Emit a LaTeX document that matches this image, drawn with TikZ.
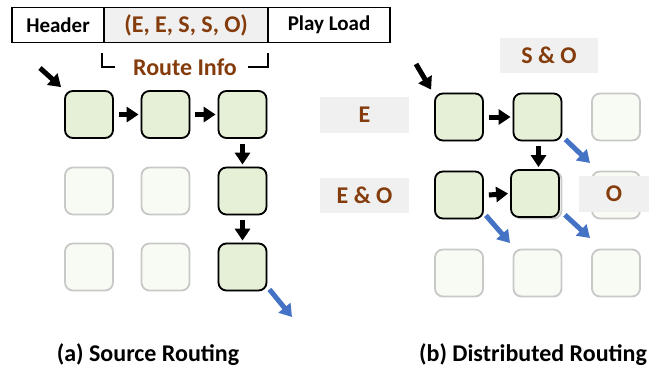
\documentclass[tikz,border=0pt]{standalone}
\usepackage{fontspec}
\setmainfont{Carlito}
\usetikzlibrary{arrows.meta}
\definecolor{routebrown}{HTML}{843C0C}
\definecolor{activefill}{HTML}{E6F0D6}
\definecolor{idlefill}{HTML}{F8FBF3}
\definecolor{idleline}{HTML}{C8C8C8}
\definecolor{tagfill}{HTML}{F0F0F0}
\definecolor{hopblue}{HTML}{4472C4}
\tikzset{
  router/.style={minimum width=48pt, minimum height=47pt, inner sep=0pt,
    rounded corners=8pt, draw=black, line width=1.8pt, fill=activefill},
  idle/.style={minimum width=48pt, minimum height=47pt, inner sep=0pt,
    rounded corners=8pt, draw=idleline, line width=1.8pt, fill=idlefill},
  hop/.style={line width=5pt, -{Triangle[length=12pt,width=15pt]}},
  nexthop/.style={hop, draw=hopblue},
  field/.style={draw=black, line width=1.2pt, minimum height=35pt, inner sep=0pt,
    font=\fontsize{21}{24}\selectfont\bfseries},
  brownfont/.style={font=\fontsize{24}{28}\selectfont\bfseries, text=routebrown},
  tag/.style={fill=tagfill, inner sep=0pt, brownfont},
  caption/.style={font=\fontsize{24}{28}\selectfont\bfseries},
}
\begin{document}
\begin{tikzpicture}[x=1pt, y=-1pt]
\useasboundingbox (0,0) rectangle (663,368);

% packet format
\node[field, minimum width=92pt] (hdr) at (58,25) {Header};
\node[field, minimum width=164pt, fill=tagfill, brownfont] (route) at (186,25) {(E, E, S, S, O)};
\node[field, minimum width=122pt] (load) at (329,25) {Play Load};
\node[brownfont] (info) at (185,67) {Route Info};
\draw[line width=1.3pt] (102,53) -- (102,67) -- (115,67);
\draw[line width=1.3pt] (248,67) -- (268,67) -- (268,53);

% (a) source routing mesh
\foreach \r/\y in {1/114.5, 2/191, 3/267}
  \foreach \c/\x in {1/89, 2/165.5, 3/242.5}
    \node[idle] (a\r\c) at (\x,\y) {};
\node[router] (a11) at (89,114.5) {};
\node[router] (a12) at (165.5,114.5) {};
\node[router] (a13) at (242.5,114.5) {};
\node[router] (a23) at (242.5,191) {};
\node[router] (a33) at (242.5,267) {};
\coordinate (ain) at (40,68);
\draw[hop] (ain) -- ([shift={(-3pt,3pt)}]a11.north west);
\draw[hop] (a11.east) ++(5,0) coordinate (p1) (p1) -- ([xshift=-2pt]a12.west);
\draw[hop] (a12.east) ++(5,0) coordinate (p2) (p2) -- ([xshift=-2pt]a13.west);
\draw[hop] (a13.south) ++(0,5) coordinate (p3) (p3) -- ([yshift=2pt]a23.north);
\draw[hop] (a23.south) ++(0,5) coordinate (p4) (p4) -- ([yshift=2pt]a33.north);
\coordinate (aout) at (292,317);
\draw[nexthop] ([shift={(2pt,2pt)}]a33.south east) -- (aout);

% (b) distributed routing mesh
\foreach \r/\y in {1/117, 2/195, 3/273}
  \foreach \c/\x in {1/459, 2/537.5, 3/616}
    \node[idle] (b\r\c) at (\x,\y) {};
\node[router] (b11) at (459,117) {};
\node[router] (b12) at (537.5,117) {};
\node[router] (b21) at (459,195) {};
\node[router] (b22) at (535,193.5) {};
\coordinate (bin) at (416,64);
\draw[hop] (bin) -- ([shift={(-3pt,3pt)}]b11.north west);
\draw[hop] (b11.east) ++(5,0) coordinate (q1) (q1) -- ([xshift=-2pt]b12.west);
\draw[hop] (b21.east) ++(5,0) coordinate (q2) (q2) -- ([xshift=-2pt]b22.west);
\draw[hop] (b12.south) ++(1,5) coordinate (q3) (q3) -- ([yshift=2pt]q3 |- b22.north);
\coordinate (bout1) at (590,163);
\coordinate (bout2) at (590,238);
\coordinate (bout3) at (510,243);
\draw[nexthop] ([shift={(3pt,2pt)}]b12.south east) -- (bout1);
\draw[nexthop] ([shift={(5pt,3pt)}]b22.south east) -- (bout2);
\draw[nexthop] ([shift={(2pt,4pt)}]b21.south east) -- (bout3);

% routing decisions held at each router
\node[tag, minimum width=98pt, minimum height=35pt] (tso) at (549,55.5) {S \& O};
\node[tag, minimum width=89pt, minimum height=36pt] (te) at (364.5,115) {E};
\node[tag, minimum width=89pt, minimum height=35pt] (teo) at (364.5,195.5) {E \& O};
\node[tag, minimum width=70pt, minimum height=36pt] (to) at (614,194) {O};

% captions
\node[caption] (capa) at (148,355) {(a) Source Routing};
\node[caption] (capb) at (533,355) {(b) Distributed Routing};
\end{tikzpicture}
\end{document}
